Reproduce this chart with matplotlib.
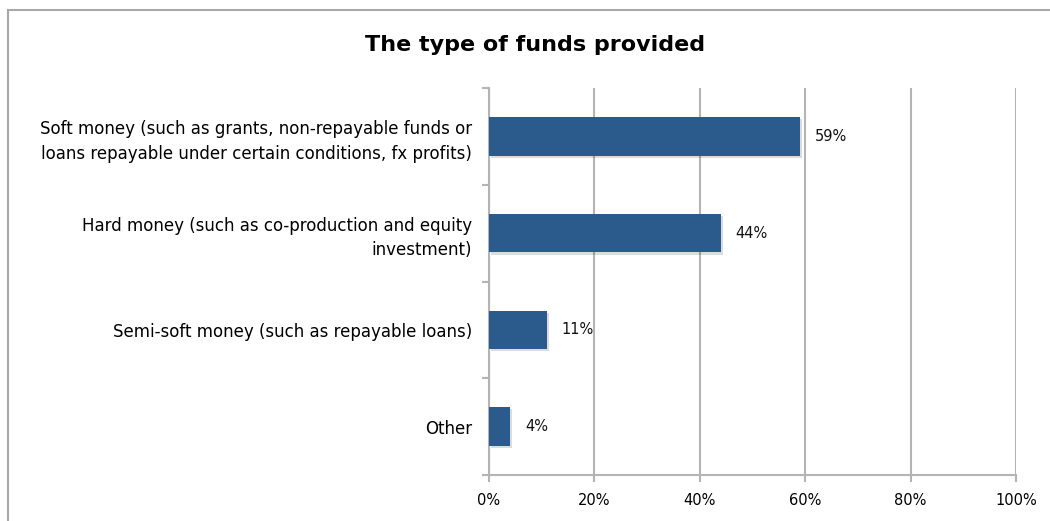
import matplotlib.pyplot as plt
import matplotlib.patheffects as pe
from matplotlib.patches import Rectangle
import numpy as np

# === DATA ===
categories = [
    "Soft money (such as grants, non-repayable funds or\nloans repayable under certain conditions, fx profits)",
    "Hard money (such as co-production and equity\ninvestment)",
    "Semi-soft money (such as repayable loans)",
    "Other",
]
values = [59, 44, 11, 4]
xticks = [0, 20, 40, 60, 80, 100]
xtick_labels = ["0%", "20%", "40%", "60%", "80%", "100%"]

BAR_COLOR = "#2b5b8c"
GRID_COLOR = "#b4b4b4"

fig = plt.figure(figsize=(10.5, 5.21), dpi=100)

# outer chart border (cropped on right/bottom like the reference)
fig.patches.append(Rectangle((8 / 1050, -0.1), 1.2, 1 - 10 / 521 + 0.1,
                             transform=fig.transFigure, fill=False,
                             edgecolor="#a8a8a8", linewidth=1.5))

ax = fig.add_axes([489 / 1050, 1 - 475 / 521, 527 / 1050, 387 / 521])

y = np.arange(len(categories))
bars = ax.barh(y, values, height=0.4, color=BAR_COLOR, zorder=3)
for b in bars:
    b.set_path_effects([pe.SimplePatchShadow(offset=(1.5, -1.5), alpha=0.15), pe.Normal()])

for yi, v in zip(y, values):
    ax.text(v + 2.8, yi, f"{v}%", va="center", ha="left", fontsize=10.5, color="#111111")

ax.set_xlim(0, 100)
ax.set_ylim(len(categories) - 0.5, -0.5)
ax.set_xticks(xticks)
ax.set_xticklabels(xtick_labels, fontsize=10.5)
ax.xaxis.grid(True, color=GRID_COLOR, linewidth=1.5, zorder=0)

ax.set_yticks(y)
ax.set_yticklabels(categories, fontsize=12, ha="right", linespacing=1.45)
ax.tick_params(axis="y", which="major", length=0, pad=12)
ax.set_yticks(np.arange(-0.5, len(categories) + 0.5, 1), minor=True)
ax.tick_params(axis="y", which="minor", length=5, color=GRID_COLOR, width=1.5)
ax.tick_params(axis="x", length=5, color=GRID_COLOR, width=1.5, pad=8)

for s in ["top", "right"]:
    ax.spines[s].set_visible(False)
for s in ["left", "bottom"]:
    ax.spines[s].set_color(GRID_COLOR)
    ax.spines[s].set_linewidth(1.5)

fig.text(535 / 1050, 1 - 45 / 521, "The type of funds provided", ha="center", va="center",
         fontsize=16, fontweight="bold")

fig.savefig("out.png", dpi=100)
